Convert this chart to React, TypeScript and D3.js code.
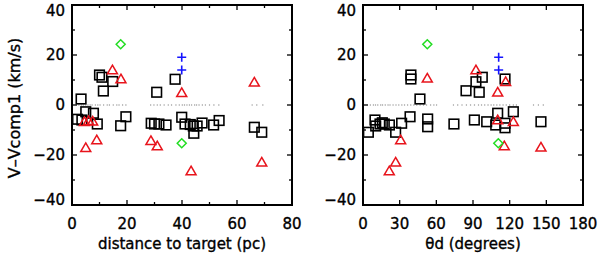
import React from "react";
import * as d3 from "d3";

// ---------- data ----------
// Left panel: distance to target (pc) vs V - Vcomp1 (km/s)
const distSquaresX = [3.3, 5.0, 7.8, 2.0, 3.6, 9.2, 10.0, 10.9, 11.4, 14.8, 19.6, 17.7, 30.8, 28.8, 30.0, 31.6, 34.2, 37.5, 39.9, 41.1, 43.0, 44.1, 44.3, 45.5, 47.3, 51.5, 53.5, 66.3, 69.0];
const distSquaresY = [2.4, -2.7, -3.3, -5.7, -6.0, -7.6, 12.0, 11.1, 5.6, 9.4, -4.7, -8.3, 5.1, -7.3, -7.6, -7.6, -8.0, 10.3, -4.9, -7.6, -7.8, -8.4, -11.3, -8.4, -7.2, -8.0, -6.2, -8.9, -10.9];
const distTrianglesX = [14.7, 17.8, 4.5, 6.0, 7.5, 9.0, 5.0, 28.7, 31.0, 39.9, 43.3, 66.3, 69.0];
const distTrianglesY = [14.0, 10.4, -6.7, -6.3, -6.5, -14.0, -17.1, -14.3, -16.4, 4.9, -26.4, 9.1, -22.9];
const distDiamondsX = [17.7, 39.9];
const distDiamondsY = [24.3, -15.3];
const distCrossesX = [39.9, 39.9];
const distCrossesY = [19.1, 14.0];
const distZeroDotsX = [2.5, 3.4, 4.1, 5.0, 5.8, 6.6, 7.3, 8.5, 9.4, 10.2, 11.5, 12.8, 13.6, 15.0, 16.3, 17.1, 18.4, 19.6, 28.6, 29.8, 31.0, 32.1, 33.5, 35.0, 36.2, 37.8, 39.0, 40.1, 40.9, 41.8, 42.7, 43.5, 44.6, 45.3, 46.2, 47.4, 48.5, 50.0, 51.6, 53.4, 65.5, 67.2, 69.4];

// Right panel: theta_d (degrees) vs V - Vcomp1 (km/s)
const angSquaresX = [4.4, 9.8, 10.4, 13.9, 15.8, 17.4, 21.6, 26.7, 31.6, 38.5, 39.2, 39.2, 46.6, 52.9, 52.9, 74.4, 84.3, 91.1, 92.4, 95.1, 97.6, 101.2, 110.2, 108.6, 116.2, 116.2, 116.2, 123.0, 145.6];
const angSquaresY = [-10.9, -6.0, -8.4, -7.6, -7.1, -7.6, -8.0, -10.9, -7.3, -4.7, 12.0, 10.4, 2.4, -5.6, -8.7, -7.6, 5.7, -6.0, 9.3, 5.1, 11.1, -6.7, -3.3, -8.0, 10.4, -7.3, -9.1, -2.7, -6.7];
const angTrianglesX = [52.6, 92.4, 110.2, 116.7, 110.2, 123.0, 115.6, 145.6, 30.8, 26.7, 21.5];
const angTrianglesY = [10.7, 14.0, 5.1, 9.3, -6.0, -6.7, -16.4, -16.9, -14.0, -22.9, -26.4];
const angDiamondsX = [52.6, 110.7];
const angDiamondsY = [24.3, -15.3];
const angCrossesX = [111.0, 111.0];
const angCrossesY = [19.1, 14.0];
const angZeroDotsX = [6.0, 8.5, 10.2, 12.1, 14.5, 16.0, 18.2, 20.5, 22.1, 24.6, 27.0, 29.3, 31.8, 34.0, 36.5, 39.1, 41.6, 44.0, 46.7, 49.5, 52.0, 55.3, 58.0, 60.2, 74.0, 77.5, 81.0, 84.6, 88.0, 91.2, 94.5, 97.0, 99.6, 102.3, 104.8, 107.0, 109.5, 112.0, 114.6, 117.2, 120.0, 123.0, 125.5, 139.5, 143.5, 147.5];

// Axes
const yDomain = [-40, 40];
const yMajorTicks = [-40, -20, 0, 20, 40];
const yMinorTicks = [-30, -10, 10, 30];
const distDomain = [0, 80];
const distMajorTicks = [0, 20, 40, 60, 80];
const distMinorTicks = [10, 30, 50, 70];
const angDomain = [0, 180];
const angMajorTicks = [0, 30, 60, 90, 120, 150, 180];
const angMinorTicks: number[] = [];

const yLabel = "V\u2013Vcomp1 (km/s)";
const distLabel = "distance to target (pc)";
const angLabel = "\u03b8d (degrees)";

// ---------- style ----------
const FONT = "'DejaVu Sans', sans-serif";
const FS = 15;
const TOP = 5;
const BOTTOM = 205;
const RED = "#e8141c";
const GREEN = "#22dd22";
const BLUE = "#1414ff";

type PanelProps = {
  x0: number;
  x1: number;
  domain: number[];
  majors: number[];
  minors: number[];
  label: string;
  sqX: number[]; sqY: number[];
  trX: number[]; trY: number[];
  diX: number[]; diY: number[];
  crX: number[]; crY: number[];
  dotsX: number[];
  showYTitle: boolean;
};

function Panel(p: PanelProps) {
  const x = d3.scaleLinear().domain(p.domain).range([p.x0, p.x1]);
  const y = d3.scaleLinear().domain(yDomain).range([BOTTOM, TOP]);
  const maj = 5;
  const min = 3;
  const S = 4.8;
  return (
    <g>
      {/* zero dots */}
      {p.dotsX.map((v, i) => (
        <circle key={"d" + i} cx={x(v)} cy={y(0)} r={0.7} fill="#999" />
      ))}
      {/* squares */}
      {p.sqX.map((v, i) => (
        <rect key={"s" + i} x={x(v) - S} y={y(p.sqY[i]) - S} width={2 * S} height={2 * S}
          fill="none" stroke="#000" strokeWidth={1.6} />
      ))}
      {/* triangles */}
      {p.trX.map((v, i) => (
        <path key={"t" + i}
          d={`M${x(v)},${y(p.trY[i]) - 4.8} L${x(v) + 5},${y(p.trY[i]) + 3.8} L${x(v) - 5},${y(p.trY[i]) + 3.8} Z`}
          fill="none" stroke={RED} strokeWidth={1.5} strokeLinejoin="miter" />
      ))}
      {/* diamonds */}
      {p.diX.map((v, i) => (
        <path key={"m" + i}
          d={`M${x(v)},${y(p.diY[i]) - 4.5} L${x(v) + 4.5},${y(p.diY[i])} L${x(v)},${y(p.diY[i]) + 4.5} L${x(v) - 4.5},${y(p.diY[i])} Z`}
          fill="none" stroke={GREEN} strokeWidth={1.5} />
      ))}
      {/* crosses */}
      {p.crX.map((v, i) => (
        <path key={"c" + i}
          d={`M${x(v) - 4.5},${y(p.crY[i])} H${x(v) + 4.5} M${x(v)},${y(p.crY[i]) - 4.5} V${y(p.crY[i]) + 4.5}`}
          fill="none" stroke={BLUE} strokeWidth={1.6} />
      ))}
      {/* ticks */}
      <g stroke="#000" strokeWidth={1.3}>
        {p.majors.map((v) => (
          <g key={"xm" + v}>
            <line x1={x(v)} x2={x(v)} y1={BOTTOM} y2={BOTTOM - maj} />
            <line x1={x(v)} x2={x(v)} y1={TOP} y2={TOP + maj} />
          </g>
        ))}
        {p.minors.map((v) => (
          <g key={"xn" + v}>
            <line x1={x(v)} x2={x(v)} y1={BOTTOM} y2={BOTTOM - min} />
            <line x1={x(v)} x2={x(v)} y1={TOP} y2={TOP + min} />
          </g>
        ))}
        {yMajorTicks.map((v) => (
          <g key={"ym" + v}>
            <line x1={p.x0} x2={p.x0 + maj} y1={y(v)} y2={y(v)} />
            <line x1={p.x1} x2={p.x1 - maj} y1={y(v)} y2={y(v)} />
          </g>
        ))}
        {yMinorTicks.map((v) => (
          <g key={"yn" + v}>
            <line x1={p.x0} x2={p.x0 + min} y1={y(v)} y2={y(v)} />
            <line x1={p.x1} x2={p.x1 - min} y1={y(v)} y2={y(v)} />
          </g>
        ))}
      </g>
      {/* frame */}
      <rect x={p.x0} y={TOP} width={p.x1 - p.x0} height={BOTTOM - TOP}
        fill="none" stroke="#000" strokeWidth={2} />
      {/* tick labels */}
      <g fontFamily={FONT} fontSize={FS} fill="#000" stroke="#000" strokeWidth={0.35}>
        {p.majors.map((v) => (
          <text key={"xl" + v} x={x(v)} y={229} textAnchor="middle">{v}</text>
        ))}
        {yMajorTicks.map((v) => (
          <text key={"yl" + v} x={p.x0 - 7} y={Math.min(Math.max(y(v), 11), 200)}
            textAnchor="end" dominantBaseline="central">
            {v < 0 ? "\u2212" + Math.abs(v) : v}
          </text>
        ))}
        <text x={(p.x0 + p.x1) / 2} y={249} textAnchor="middle">{p.label}</text>
        {p.showYTitle && (
          <text transform={`translate(20,${(TOP + BOTTOM) / 2 + 3}) rotate(-90)`} textAnchor="middle"
            fontSize={16}>
            {yLabel}
          </text>
        )}
      </g>
    </g>
  );
}

export default function App() {
  return (
    <svg width={600} height={258} viewBox="0 0 600 258"
      style={{ position: "absolute", left: 0, top: 0, background: "#fff" }}>
      <rect x={0} y={0} width={600} height={258} fill="#fff" />
      <Panel x0={72} x1={292} domain={distDomain} majors={distMajorTicks} minors={distMinorTicks}
        label={distLabel}
        sqX={distSquaresX} sqY={distSquaresY}
        trX={distTrianglesX} trY={distTrianglesY}
        diX={distDiamondsX} diY={distDiamondsY}
        crX={distCrossesX} crY={distCrossesY}
        dotsX={distZeroDotsX} showYTitle={true} />
      <Panel x0={363} x1={583} domain={angDomain} majors={angMajorTicks} minors={angMinorTicks}
        label={angLabel}
        sqX={angSquaresX} sqY={angSquaresY}
        trX={angTrianglesX} trY={angTrianglesY}
        diX={angDiamondsX} diY={angDiamondsY}
        crX={angCrossesX} crY={angCrossesY}
        dotsX={angZeroDotsX} showYTitle={false} />
    </svg>
  );
}
